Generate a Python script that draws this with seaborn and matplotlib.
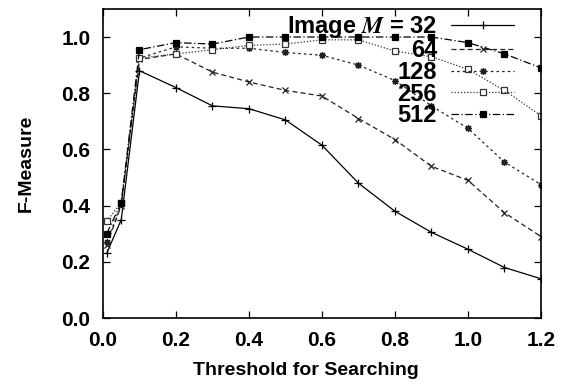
import matplotlib
matplotlib.use('Agg')
import matplotlib.pyplot as plt
import seaborn as sns

# threshold values and F-measure per image size M
thresholds = [0.01, 0.05, 0.1, 0.2, 0.3, 0.4, 0.5, 0.6, 0.7, 0.8, 0.9, 1.0, 1.1, 1.2]
m32 = [0.23, 0.35, 0.88, 0.82, 0.755, 0.745, 0.705, 0.615, 0.48, 0.38, 0.305, 0.245, 0.18, 0.14]
m64 = [0.26, 0.40, 0.92, 0.94, 0.875, 0.84, 0.81, 0.79, 0.71, 0.635, 0.54, 0.49, 0.375, 0.29]
m128 = [0.27, 0.405, 0.925, 0.965, 0.96, 0.96, 0.945, 0.935, 0.90, 0.845, 0.755, 0.675, 0.555, 0.475]
m256 = [0.345, 0.41, 0.925, 0.94, 0.955, 0.97, 0.975, 0.99, 0.99, 0.95, 0.93, 0.885, 0.81, 0.72]
m512 = [0.30, 0.41, 0.955, 0.98, 0.975, 1.0, 1.0, 1.0, 1.0, 1.0, 1.0, 0.98, 0.94, 0.89]
labels = ['Image $M$ = 32', '64', '128', '256', '512']

sns.set_style('ticks')
plt.rcParams['font.family'] = ['Liberation Sans', 'DejaVu Sans']
plt.rcParams['font.weight'] = 'bold'
plt.rcParams['mathtext.fontset'] = 'stix'
plt.rcParams['text.color'] = 'black'
plt.rcParams['axes.labelcolor'] = 'black'

fig, ax = plt.subplots(figsize=(5.64, 3.87), dpi=100)
fig.subplots_adjust(left=0.1826, right=0.9592, bottom=0.178, top=0.977)

styles = [
    dict(linestyle='-', marker='+', markersize=5.5, color='black'),
    dict(linestyle=(0, (4, 2.5)), marker='x', markersize=4.5, color='#222222'),
    dict(linestyle=(0, (2, 2.5)), marker=(8, 2, 0), markersize=5, color='#222222'),
    dict(linestyle=(0, (1, 1.5)), marker='s', markersize=4.2, markerfacecolor='white', color='#333333'),
    dict(linestyle=(0, (6, 2, 1, 2)), marker='s', markersize=4.6, markerfacecolor='black', color='black'),
]

for vals, lab, st in zip([m32, m64, m128, m256, m512], labels, styles):
    sns.lineplot(x=thresholds, y=vals, ax=ax, label=lab, linewidth=0.9,
                 markeredgewidth=0.9, markeredgecolor=st['color'], **st)

ax.set_xlim(0, 1.2)
ax.set_ylim(0, 1.1)
ax.set_xticks([0.0, 0.2, 0.4, 0.6, 0.8, 1.0, 1.2])
ax.set_yticks([0.0, 0.2, 0.4, 0.6, 0.8, 1.0])
ax.set_xticklabels(['0.0', '0.2', '0.4', '0.6', '0.8', '1.0', '1.2'])
ax.set_yticklabels(['0.0', '0.2', '0.4', '0.6', '0.8', '1.0'])
ax.tick_params(direction='in', length=5, width=0.9, top=True, right=True,
               labelsize=15, pad=9, colors='black')
for sp in ax.spines.values():
    sp.set_linewidth(1.2)
    sp.set_color('black')

ax.set_xlabel('Threshold for Searching', fontsize=14, fontweight='bold')
ax.set_ylabel('F-Measure', fontsize=14, fontweight='bold', labelpad=19)
ax.xaxis.set_label_coords(0.463, -0.142)
ax.xaxis.label.set_verticalalignment('top')

ax.legend(loc='upper right', bbox_to_anchor=(0.938, 0.983), frameon=False,
          markerfirst=False, fontsize=17, labelspacing=-0.05, handlelength=2.65,
          handletextpad=0.6, borderpad=0, borderaxespad=0, numpoints=1)

plt.savefig('out.png', dpi=100)
